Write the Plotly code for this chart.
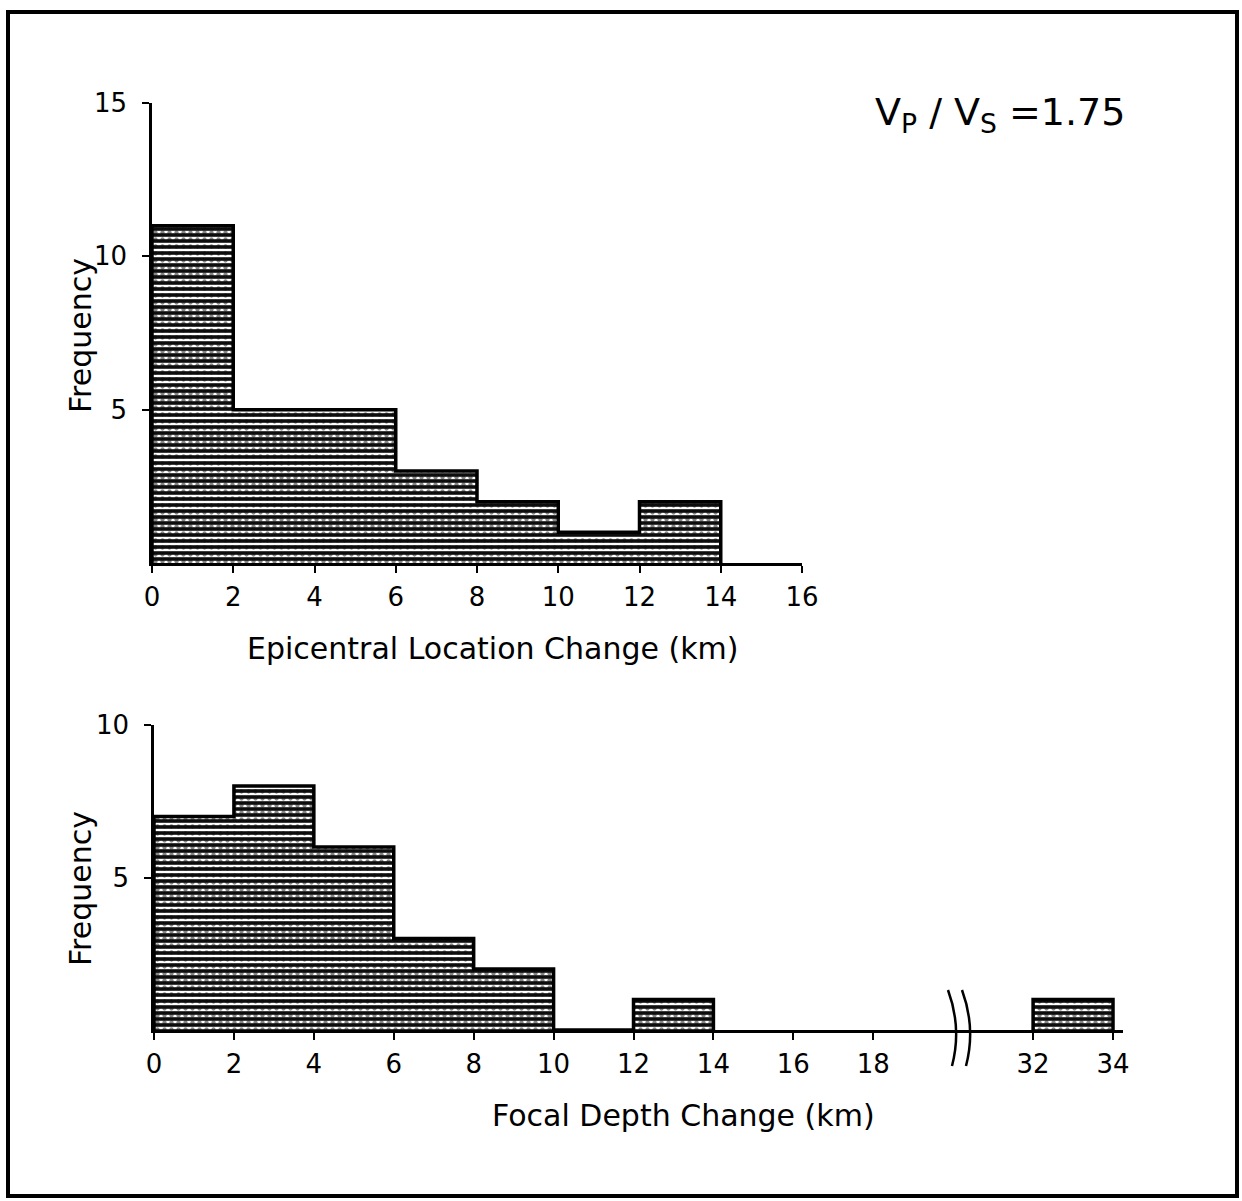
import plotly.graph_objects as go

# ---------------- data ----------------
epi_bin_left = [0, 2, 4, 6, 8, 10, 12]
epi_counts = [11, 5, 5, 3, 2, 1, 2]
epi_ticks = [0, 2, 4, 6, 8, 10, 12, 14, 16]

depth_bin_left = [0, 2, 4, 6, 8, 10, 12, 32]
depth_counts = [7, 8, 6, 3, 2, 0, 1, 1]
depth_ticks = [0, 2, 4, 6, 8, 10, 12, 14, 16, 18, 32, 34]

bin_width = 2
break_start = 32      # values >= this are shown after the axis break
break_shift = 10      # 32 km drawn where 22 km would be

annotation_text = "V<sub>P</sub> / V<sub>S</sub> =1.75"


def shown(v):
    return v - break_shift if v >= break_start else v


FONT = "DejaVu Sans"
W, H = 1242, 1201


def px_x(p):
    return p / W


def px_y(p):
    return 1 - p / H


fill_style = dict(
    color="#0d0d0d", line=dict(width=0),
    pattern=dict(shape="-", fgcolor="white", bgcolor="#0d0d0d",
                 size=6, solidity=0.4, fillmode="replace"),
)
speckle_style = dict(
    color="rgba(0,0,0,0)", line=dict(width=0),
    pattern=dict(shape=".", fgcolor="#0d0d0d", bgcolor="rgba(0,0,0,0)",
                 size=7, solidity=0.3, fillmode="overlay"),
)


def step_groups(lefts, counts):
    """Split bins into contiguous runs and return step outlines (x, y)."""
    groups, cur = [], []
    for l, c in zip(lefts, counts):
        if cur and l != cur[-1][0] + bin_width:
            groups.append(cur)
            cur = []
        cur.append((l, c))
    if cur:
        groups.append(cur)
    outlines = []
    for g in groups:
        ls = [p[0] for p in g]
        cs = [p[1] for p in g]
        right = ls[-1] + bin_width
        outlines.append(([ls[0]] + ls + [right, right], [0] + cs + [cs[-1], 0]))
    return outlines


fig = go.Figure()


def add_hist(lefts, counts, xa, ya):
    xs = [shown(b) + bin_width / 2 for b in lefts]
    for style in (fill_style, speckle_style):
        fig.add_trace(go.Bar(x=xs, y=counts, width=bin_width, marker=style,
                             xaxis=xa, yaxis=ya, showlegend=False,
                             hoverinfo="skip"))
    for ox, oy in step_groups(lefts, counts):
        fig.add_trace(go.Scatter(x=[shown(v) for v in ox], y=oy, mode="lines",
                                 line=dict(color="black", width=3.5, shape="hv"),
                                 xaxis=xa, yaxis=ya, showlegend=False,
                                 cliponaxis=False, hoverinfo="skip"))


add_hist(epi_bin_left, epi_counts, "x", "y")
add_hist(depth_bin_left, depth_counts, "x2", "y2")

axis_common = dict(
    showline=True, linecolor="black", linewidth=2.5,
    ticks="outside", ticklen=7, tickwidth=2, tickcolor="black",
    showgrid=False, zeroline=False, automargin=False,
    tickfont=dict(family=FONT, size=26, color="black"),
)

fig.update_layout(
    width=W, height=H,
    margin=dict(l=0, r=0, t=0, b=0),
    paper_bgcolor="white", plot_bgcolor="white",
    template="none",
    bargap=0, barmode="overlay",
    xaxis=dict(axis_common, domain=[px_x(152), px_x(802)], range=[0, 16],
               tickvals=epi_ticks, anchor="y", ticklabelstandoff=2),
    yaxis=dict(axis_common, domain=[px_y(563), px_y(103)], range=[0, 15],
               tickvals=[5, 10, 15], anchor="x", ticklabelstandoff=10),
    xaxis2=dict(axis_common, domain=[px_x(154), px_x(1123)], range=[0, 24.25],
                tickvals=[shown(t) for t in depth_ticks],
                ticktext=[str(t) for t in depth_ticks], anchor="y2",
                ticklabelstandoff=2),
    yaxis2=dict(axis_common, domain=[px_y(1030), px_y(725)], range=[0, 10],
                tickvals=[5, 10], anchor="x2", ticklabelstandoff=10),
)

annos = [
    dict(text="Epicentral Location Change (km)", x=px_x(492), y=px_y(648)),
    dict(text="Focal Depth Change (km)", x=px_x(683), y=px_y(1115)),
    dict(text="Frequency", x=px_x(80), y=px_y(336), textangle=-90),
    dict(text="Frequency", x=px_x(80), y=px_y(889), textangle=-90),
]
for a in annos:
    fig.add_annotation(xref="paper", yref="paper", showarrow=False,
                       xanchor="center", yanchor="middle",
                       font=dict(family=FONT, size=30, color="black"), **a)

fig.add_annotation(xref="paper", yref="paper", showarrow=False,
                   x=px_x(1000), y=px_y(115), xanchor="center", yanchor="middle",
                   text=annotation_text,
                   font=dict(family=FONT, size=38, color="black"))

# outer frame
fig.add_shape(type="rect", xref="paper", yref="paper",
              x0=px_x(8), x1=px_x(1237), y0=px_y(1196), y1=px_y(12),
              line=dict(color="black", width=4), fillcolor="rgba(0,0,0,0)")

# axis break marks
for bx in (948, 962):
    path = (f"M {px_x(bx)},{px_y(990)} "
            f"Q {px_x(bx + 14)},{px_y(1028)} {px_x(bx + 4)},{px_y(1066)}")
    fig.add_shape(type="path", xref="paper", yref="paper", path=path,
                  line=dict(color="black", width=2.5))

fig.write_html("out.html")
